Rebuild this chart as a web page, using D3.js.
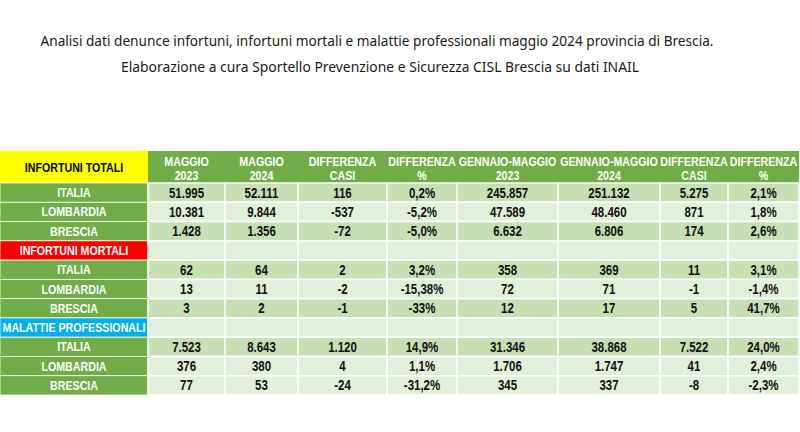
<!DOCTYPE html>
<html>
<head>
<meta charset="utf-8">
<script src="https://cdn.jsdelivr.net/npm/d3@7"></script>
<style>
  body { margin: 0; background: #fff; }
  svg { display: block; }
</style>
</head>
<body>
<div id="chart"></div>
<script>
// titles
var titleLines = [
    "Analisi dati denunce infortuni, infortuni mortali e malattie professionali maggio 2024 provincia di Brescia.",
    "Elaborazione a cura Sportello Prevenzione e Sicurezza CISL Brescia su dati INAIL"
];

// column headers (two lines each)
var headers = [
    ["MAGGIO", "2023"], ["MAGGIO", "2024"], ["DIFFERENZA", "CASI"], ["DIFFERENZA", "%"],
    ["GENNAIO-MAGGIO", "2023"], ["GENNAIO-MAGGIO", "2024"], ["DIFFERENZA", "CASI"], ["DIFFERENZA", "%"]
];

var sections = ["INFORTUNI TOTALI", "INFORTUNI MORTALI", "MALATTIE PROFESSIONALI"];
var territories = ["ITALIA", "LOMBARDIA", "BRESCIA"];

var infortuniTotali = [
    ["51.995", "52.111", "116", "0,2%", "245.857", "251.132", "5.275", "2,1%"],
    ["10.381", "9.844", "-537", "-5,2%", "47.589", "48.460", "871", "1,8%"],
    ["1.428", "1.356", "-72", "-5,0%", "6.632", "6.806", "174", "2,6%"]
];
var infortuniMortali = [
    ["62", "64", "2", "3,2%", "358", "369", "11", "3,1%"],
    ["13", "11", "-2", "-15,38%", "72", "71", "-1", "-1,4%"],
    ["3", "2", "-1", "-33%", "12", "17", "5", "41,7%"]
];
var malattieProfessionali = [
    ["7.523", "8.643", "1.120", "14,9%", "31.346", "38.868", "7.522", "24,0%"],
    ["376", "380", "4", "1,1%", "1.706", "1.747", "41", "2,4%"],
    ["77", "53", "-24", "-31,2%", "345", "337", "-8", "-2,3%"]
];

var W = 800, H = 432;
var green = "#70ad47", dark = "#c6e0b4", light = "#e2efda";
var sectionFill = ["#ffff00", "#ff0000", "#00b0f0"];
var sectionText = ["#000", "#fff", "#fff"];
var font = "'Liberation Sans', Arial, sans-serif";
var narrow = 0.82;

// build body rows: first section header lives in the table header row
var blocks = [infortuniTotali, infortuniMortali, malattieProfessionali];
var rows = [];
blocks.forEach(function(block, s) {
    if (s > 0) rows.push({type: "section", label: sections[s], s: s});
    block.forEach(function(vals, t) {
        rows.push({type: "data", label: territories[t], values: vals, s: s, t: t});
    });
});

var colEdges = [148, 225, 298, 387, 457, 558, 660, 728, 799];
var x = d3.scaleOrdinal().domain(d3.range(headers.length)).range(colEdges.slice(0, -1));
var colW = function(i) { return colEdges[i + 1] - colEdges[i]; };
var headTop = 151, headBottom = 183;
var y = d3.scaleBand().domain(d3.range(rows.length)).range([headBottom, 395]);

function shade(r) {
    if (r.type === "section") return light;
    if (r.t === 1) return light;
    if (r.t === 2 && r.s === 2) return light;
    return dark;
}

var svg = d3.select("#chart").append("svg")
    .attr("width", W).attr("height", H);

// titles
svg.selectAll(".title")
    .data(titleLines)
    .enter().append("text")
        .attr("class", "title")
        .attr("x", function(d, i) { return i ? 380 : 377; })
        .attr("y", function(d, i) { return 46 + i * 26; })
        .attr("text-anchor", "middle")
        .attr("textLength", function(d, i) { return i ? 518 : 673; })
        .attr("lengthAdjust", "spacingAndGlyphs")
        .style("font-family", "'Noto Sans', sans-serif")
        .style("font-size", "14px")
        .style("fill", "#1a1a1a")
        .text(function(d) { return d; });

function narrowText(sel, cx, cy, txt, size, color) {
    sel.append("text")
        .attr("transform", "translate(" + cx + "," + cy + ") scale(" + narrow + ",1)")
        .attr("text-anchor", "middle")
        .style("font-family", font)
        .style("font-weight", "bold")
        .style("font-size", size + "px")
        .style("fill", color)
        .text(txt);
}

// header row
var head = svg.append("g");
head.append("rect")
    .attr("x", 0).attr("y", headTop).attr("width", colEdges[0]).attr("height", headBottom - headTop)
    .attr("fill", sectionFill[0]);
head.append("rect")
    .attr("x", colEdges[0]).attr("y", headTop)
    .attr("width", colEdges[colEdges.length - 1] - colEdges[0]).attr("height", headBottom - headTop)
    .attr("fill", green);
narrowText(head, colEdges[0] / 2, (headTop + headBottom) / 2 + 5, sections[0], 13, sectionText[0]);
headers.forEach(function(h, i) {
    var cx = x(i) + colW(i) / 2;
    narrowText(head, cx, 166, h[0], 13, "#fff");
    narrowText(head, cx, 180, h[1], 13, "#fff");
});

// body rows
var body = svg.selectAll(".row")
    .data(rows)
    .enter().append("g")
        .attr("class", "row")
        .attr("transform", function(d, i) { return "translate(0," + y(i) + ")"; });

body.append("rect")
    .attr("x", 0).attr("y", 0).attr("width", colEdges[0]).attr("height", y.bandwidth())
    .attr("fill", function(d) { return d.type === "section" ? sectionFill[d.s] : green; })
    .attr("stroke", "#fff").attr("stroke-width", 0.8);

body.each(function(r) {
    var g = d3.select(this);
    var h = y.bandwidth();
    narrowText(g, colEdges[0] / 2, h / 2 + 4.5, r.label, 13,
        r.type === "section" ? sectionText[r.s] : "#fff");
    headers.forEach(function(hd, i) {
        g.append("rect")
            .attr("x", x(i)).attr("y", 0).attr("width", colW(i)).attr("height", h)
            .attr("fill", shade(r))
            .attr("stroke", "#fff").attr("stroke-width", 1.5);
        if (r.type === "data") {
            narrowText(g, x(i) + colW(i) / 2, h / 2 + 5, r.values[i], 14, "#111");
        }
    });
});
</script>
</body>
</html>
